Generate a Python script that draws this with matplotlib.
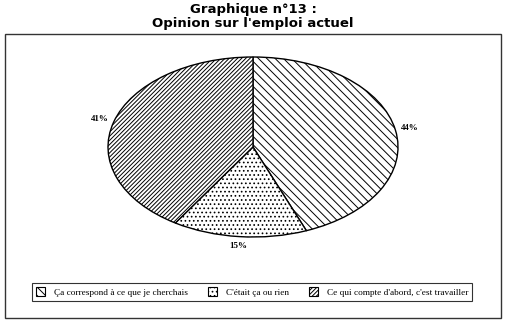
import matplotlib
matplotlib.use("Agg")
import matplotlib.pyplot as plt
from matplotlib.patches import Patch, Rectangle

categories = ["Ça correspond à ce que je cherchais", "C'était ça ou rien",
              "Ce qui compte d'abord, c'est travailler"]
values = [44, 15, 41]
hatches = ["\\\\\\\\", "....", "////////"]

plt.rcParams["hatch.linewidth"] = 0.7

W, H = 507, 321
fig = plt.figure(figsize=(W / 100, H / 100), dpi=100)

# cadre autour du graphique
fig.patches.append(Rectangle((5 / W, 1 - 318 / H), 496 / W, 284 / H,
                             transform=fig.transFigure, fill=False,
                             edgecolor="#333333", linewidth=1.0))

fig.text(253 / W, 1 - 9 / H, "Graphique n°13 :", ha="center", va="center",
         fontsize=9.5, fontweight="bold", family="DejaVu Sans")
fig.text(253 / W, 1 - 24 / H, "Opinion sur l'emploi actuel", ha="center", va="center",
         fontsize=9.5, fontweight="bold", family="DejaVu Sans")

# axe qui couvre exactement l'ellipse
ax = fig.add_axes([108 / W, 1 - 237 / H, 290 / W, 180 / H])
wedges, texts = ax.pie(values, startangle=90, counterclock=False,
                       labels=[f"{v}%" for v in values], labeldistance=1.1,
                       wedgeprops=dict(facecolor="white", edgecolor="black", linewidth=1.0),
                       textprops=dict(family="Liberation Serif", fontsize=6.5,
                                      fontweight="bold"))
for w, h in zip(wedges, hatches):
    w.set_hatch(h)
    w.set_clip_on(False)
for t in texts:
    t.set_ha("center")
    t.set_va("center")
    t.set_clip_on(False)
ax.set_aspect("auto")
ax.set_xlim(-1, 1)
ax.set_ylim(-1, 1)
ax.axis("off")

handles = [Patch(facecolor="white", edgecolor="black", hatch=h, linewidth=0.8) for h in hatches]
leg = fig.legend(handles, categories, loc="center", bbox_to_anchor=(252 / W, 1 - 292 / H),
                 ncol=3, frameon=True, fancybox=False,
                 prop=dict(family="Liberation Serif", size=6.7),
                 handlelength=1.0, handleheight=1.0, columnspacing=2.2,
                 handletextpad=0.9, borderpad=0.45)
leg.get_frame().set_edgecolor("black")
leg.get_frame().set_linewidth(0.8)

fig.savefig("out.png", dpi=100)
